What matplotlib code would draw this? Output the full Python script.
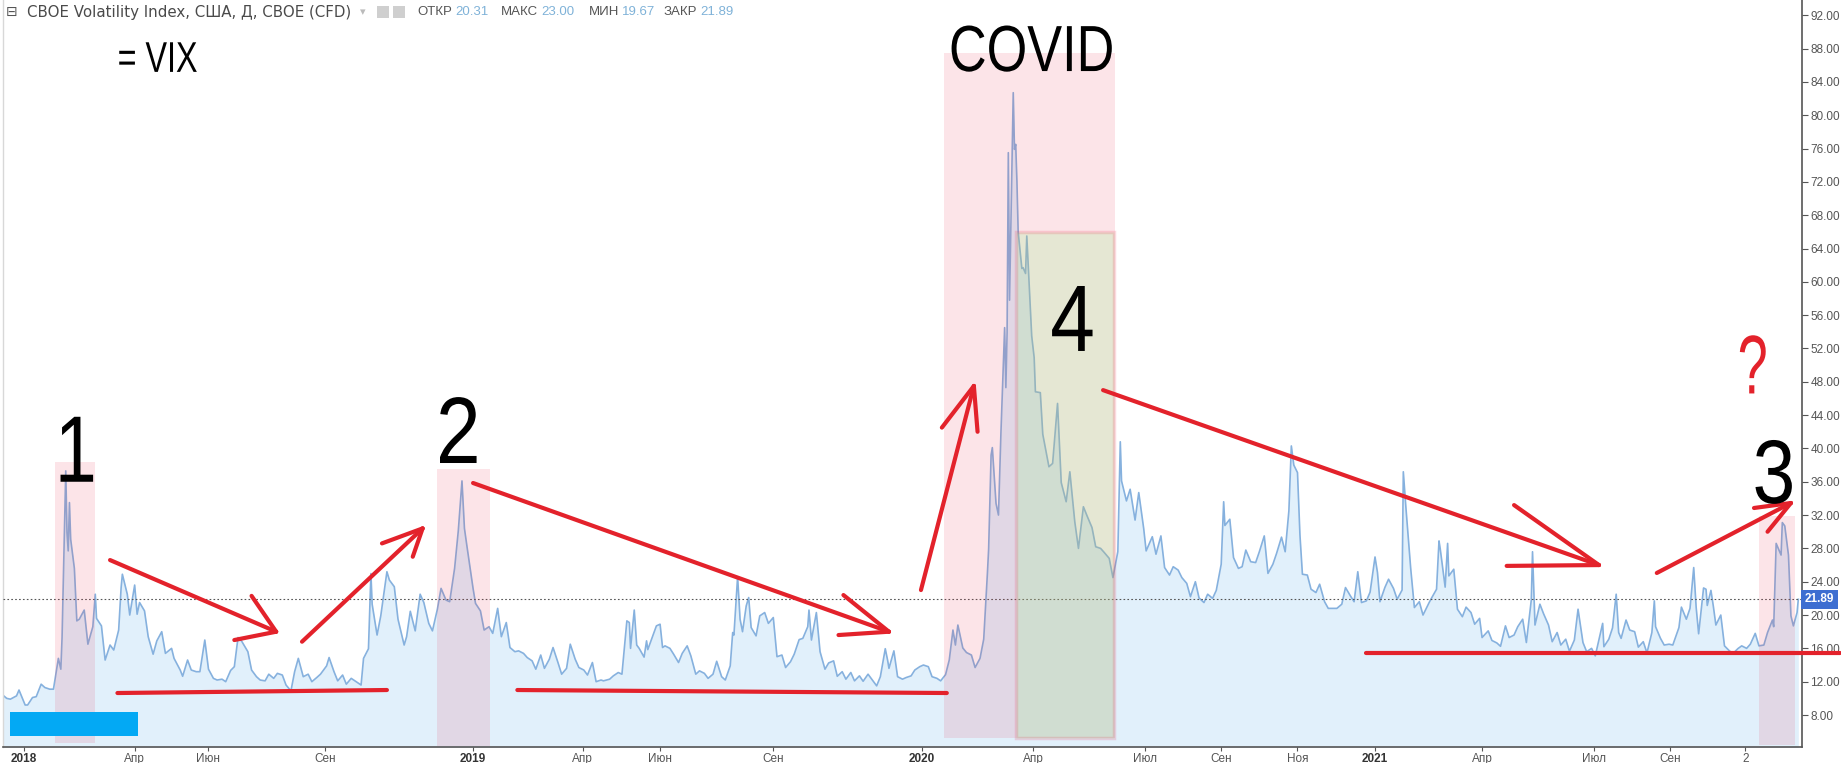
import matplotlib
matplotlib.use('Agg')
import matplotlib.pyplot as plt
import matplotlib.dates as mdates
from matplotlib.patches import Rectangle, PathPatch
from matplotlib.textpath import TextPath
from matplotlib.font_manager import FontProperties
from matplotlib.transforms import Affine2D
import pandas as pd

vix_2017 = [('2017-12-15', 10.5), ('2017-12-19', 10.0), ('2017-12-22', 9.9), ('2017-12-27', 10.3),
            ('2017-12-29', 11.0)]
vix_2018 = [('2018-01-03', 9.2), ('2018-01-05', 9.2), ('2018-01-09', 10.1), ('2018-01-12', 10.2),
            ('2018-01-16', 11.7), ('2018-01-19', 11.3), ('2018-01-23', 11.1), ('2018-01-26', 11.1),
            ('2018-01-30', 14.8), ('2018-02-01', 13.5), ('2018-02-02', 17.3), ('2018-02-05', 37.3),
            ('2018-02-06', 29.9), ('2018-02-07', 27.7), ('2018-02-08', 33.5), ('2018-02-09', 29.1),
            ('2018-02-12', 25.6), ('2018-02-14', 19.3), ('2018-02-16', 19.5), ('2018-02-20', 20.6),
            ('2018-02-23', 16.5), ('2018-02-27', 18.6), ('2018-03-01', 22.5), ('2018-03-02', 19.6),
            ('2018-03-06', 18.7), ('2018-03-09', 14.6), ('2018-03-13', 16.4), ('2018-03-16', 15.8),
            ('2018-03-20', 18.2), ('2018-03-22', 23.3), ('2018-03-23', 24.9), ('2018-03-27', 22.5),
            ('2018-03-29', 20.0), ('2018-04-02', 23.6), ('2018-04-04', 20.1), ('2018-04-06', 21.5),
            ('2018-04-10', 20.5), ('2018-04-13', 17.4), ('2018-04-17', 15.3), ('2018-04-20', 16.9),
            ('2018-04-24', 18.0), ('2018-04-27', 15.4), ('2018-05-02', 16.0), ('2018-05-04', 14.8),
            ('2018-05-09', 13.4), ('2018-05-11', 12.65), ('2018-05-15', 14.6), ('2018-05-18', 13.4),
            ('2018-05-22', 13.2), ('2018-05-25', 13.2), ('2018-05-29', 17.0), ('2018-06-01', 13.5),
            ('2018-06-05', 12.4), ('2018-06-08', 12.2), ('2018-06-12', 12.3), ('2018-06-15', 12.0),
            ('2018-06-19', 13.35), ('2018-06-22', 13.8), ('2018-06-25', 17.3), ('2018-06-28', 16.85),
            ('2018-07-03', 15.6), ('2018-07-06', 13.4), ('2018-07-10', 12.6), ('2018-07-13', 12.2),
            ('2018-07-17', 12.1), ('2018-07-20', 12.9), ('2018-07-24', 12.4), ('2018-07-27', 13.0),
            ('2018-07-31', 12.8), ('2018-08-03', 11.6), ('2018-08-07', 10.9), ('2018-08-10', 13.2),
            ('2018-08-13', 14.8), ('2018-08-17', 12.6), ('2018-08-21', 12.9), ('2018-08-24', 12.0),
            ('2018-08-28', 12.5), ('2018-08-31', 12.9), ('2018-09-05', 13.9), ('2018-09-07', 14.9),
            ('2018-09-11', 13.2), ('2018-09-14', 12.1), ('2018-09-18', 12.8), ('2018-09-21', 11.7),
            ('2018-09-25', 12.4), ('2018-09-28', 12.1), ('2018-10-03', 11.6), ('2018-10-05', 14.8),
            ('2018-10-09', 15.95), ('2018-10-11', 24.98), ('2018-10-12', 21.3), ('2018-10-16', 17.6),
            ('2018-10-19', 19.9), ('2018-10-24', 25.2), ('2018-10-26', 24.2), ('2018-10-30', 23.4),
            ('2018-11-02', 19.5), ('2018-11-07', 16.4), ('2018-11-09', 17.4), ('2018-11-12', 20.45),
            ('2018-11-16', 18.1), ('2018-11-20', 22.5), ('2018-11-23', 21.5), ('2018-11-27', 19.0),
            ('2018-11-30', 18.1), ('2018-12-04', 20.7), ('2018-12-07', 23.2), ('2018-12-11', 21.8),
            ('2018-12-14', 21.6), ('2018-12-18', 25.6), ('2018-12-21', 30.1), ('2018-12-24', 36.1),
            ('2018-12-26', 30.4), ('2018-12-28', 28.3)]
vix_2019 = [('2019-01-02', 23.2), ('2019-01-04', 21.4), ('2019-01-08', 20.5), ('2019-01-11', 18.2),
            ('2019-01-15', 18.6), ('2019-01-18', 17.8), ('2019-01-22', 20.8), ('2019-01-25', 17.4),
            ('2019-01-29', 19.1), ('2019-02-01', 16.1), ('2019-02-05', 15.6), ('2019-02-08', 15.7),
            ('2019-02-12', 15.4), ('2019-02-15', 14.9), ('2019-02-19', 14.5), ('2019-02-22', 13.5),
            ('2019-02-26', 15.2), ('2019-03-01', 13.6), ('2019-03-05', 14.7), ('2019-03-08', 16.1),
            ('2019-03-12', 14.3), ('2019-03-15', 12.9), ('2019-03-19', 13.6), ('2019-03-22', 16.5),
            ('2019-03-26', 14.7), ('2019-03-29', 13.7), ('2019-04-02', 13.4), ('2019-04-05', 12.8),
            ('2019-04-09', 14.3), ('2019-04-12', 12.0), ('2019-04-16', 12.2), ('2019-04-18', 12.1),
            ('2019-04-23', 12.3), ('2019-04-26', 12.7), ('2019-04-30', 13.1), ('2019-05-03', 12.9),
            ('2019-05-07', 19.3), ('2019-05-09', 19.1), ('2019-05-10', 16.0), ('2019-05-13', 20.6),
            ('2019-05-15', 16.4), ('2019-05-17', 16.0), ('2019-05-21', 14.95), ('2019-05-23', 16.9),
            ('2019-05-24', 15.85), ('2019-05-29', 17.9), ('2019-05-31', 18.7), ('2019-06-03', 18.9),
            ('2019-06-05', 16.1), ('2019-06-07', 16.3), ('2019-06-11', 16.0), ('2019-06-14', 15.3),
            ('2019-06-18', 14.3), ('2019-06-21', 15.4), ('2019-06-25', 16.3), ('2019-06-28', 15.1),
            ('2019-07-02', 12.9), ('2019-07-05', 13.3), ('2019-07-09', 13.0), ('2019-07-12', 12.4),
            ('2019-07-16', 12.9), ('2019-07-19', 14.45), ('2019-07-23', 12.6), ('2019-07-26', 12.2),
            ('2019-07-30', 13.9), ('2019-08-01', 17.9), ('2019-08-02', 17.6), ('2019-08-05', 24.6),
            ('2019-08-07', 19.5), ('2019-08-09', 18.0), ('2019-08-12', 21.1), ('2019-08-14', 22.1),
            ('2019-08-16', 18.5), ('2019-08-20', 17.5), ('2019-08-23', 19.9), ('2019-08-27', 20.3),
            ('2019-08-30', 19.0), ('2019-09-03', 19.7), ('2019-09-06', 15.0), ('2019-09-10', 15.2),
            ('2019-09-13', 13.7), ('2019-09-17', 14.4), ('2019-09-20', 15.3), ('2019-09-24', 17.05),
            ('2019-09-27', 17.2), ('2019-10-01', 18.6), ('2019-10-02', 20.6), ('2019-10-04', 17.0),
            ('2019-10-08', 20.3), ('2019-10-11', 15.6), ('2019-10-15', 13.5), ('2019-10-18', 14.25),
            ('2019-10-22', 14.5), ('2019-10-25', 12.65), ('2019-10-29', 13.2), ('2019-11-01', 12.3),
            ('2019-11-05', 13.1), ('2019-11-08', 12.1), ('2019-11-12', 12.7), ('2019-11-15', 12.05),
            ('2019-11-19', 12.9), ('2019-11-22', 12.3), ('2019-11-26', 11.5), ('2019-11-29', 12.6),
            ('2019-12-03', 15.96), ('2019-12-05', 14.5), ('2019-12-06', 13.6), ('2019-12-10', 15.7),
            ('2019-12-13', 12.6), ('2019-12-17', 12.3), ('2019-12-20', 12.5), ('2019-12-24', 12.7),
            ('2019-12-27', 13.4), ('2019-12-31', 13.8)]
vix_2020 = [('2020-01-03', 14.0), ('2020-01-07', 13.8), ('2020-01-10', 12.6), ('2020-01-14', 12.4),
            ('2020-01-17', 12.1), ('2020-01-21', 12.85), ('2020-01-24', 14.6), ('2020-01-27', 18.2),
            ('2020-01-29', 16.4), ('2020-01-31', 18.8), ('2020-02-04', 16.05), ('2020-02-07', 15.5),
            ('2020-02-11', 15.2), ('2020-02-14', 13.7), ('2020-02-18', 14.8), ('2020-02-21', 17.1),
            ('2020-02-24', 25.0), ('2020-02-25', 27.9), ('2020-02-27', 39.2), ('2020-02-28', 40.1),
            ('2020-03-02', 33.4), ('2020-03-04', 32.0), ('2020-03-06', 41.9), ('2020-03-09', 54.5),
            ('2020-03-10', 47.3), ('2020-03-11', 53.9), ('2020-03-12', 75.5), ('2020-03-13', 57.8),
            ('2020-03-16', 82.7), ('2020-03-17', 75.9), ('2020-03-18', 76.5), ('2020-03-19', 72.0),
            ('2020-03-20', 66.0), ('2020-03-23', 61.6), ('2020-03-24', 61.7), ('2020-03-26', 61.0),
            ('2020-03-27', 65.5), ('2020-03-31', 53.5), ('2020-04-02', 50.9), ('2020-04-03', 46.8),
            ('2020-04-07', 46.7), ('2020-04-09', 41.7), ('2020-04-14', 37.8), ('2020-04-17', 38.2),
            ('2020-04-21', 45.4), ('2020-04-24', 35.9), ('2020-04-28', 33.6), ('2020-05-01', 37.2),
            ('2020-05-05', 31.2), ('2020-05-08', 28.0), ('2020-05-12', 33.0), ('2020-05-15', 31.9),
            ('2020-05-19', 30.5), ('2020-05-22', 28.2), ('2020-05-26', 28.0), ('2020-05-29', 27.5),
            ('2020-06-02', 26.8), ('2020-06-05', 24.5), ('2020-06-09', 27.6), ('2020-06-11', 40.8),
            ('2020-06-12', 36.1), ('2020-06-16', 33.7), ('2020-06-19', 35.1), ('2020-06-23', 31.4),
            ('2020-06-26', 34.7), ('2020-06-30', 30.4), ('2020-07-02', 27.7), ('2020-07-07', 29.4),
            ('2020-07-10', 27.3), ('2020-07-14', 29.5), ('2020-07-17', 25.7), ('2020-07-21', 24.8),
            ('2020-07-24', 25.8), ('2020-07-28', 25.4), ('2020-07-31', 24.5), ('2020-08-04', 23.8),
            ('2020-08-07', 22.2), ('2020-08-11', 24.0), ('2020-08-14', 22.05), ('2020-08-18', 21.5),
            ('2020-08-21', 22.5), ('2020-08-25', 22.0), ('2020-08-28', 22.96), ('2020-09-01', 26.1),
            ('2020-09-03', 33.6), ('2020-09-04', 30.75), ('2020-09-08', 31.5), ('2020-09-11', 26.9),
            ('2020-09-15', 25.6), ('2020-09-18', 25.8), ('2020-09-21', 27.8), ('2020-09-25', 26.4),
            ('2020-09-29', 26.3), ('2020-10-02', 27.6), ('2020-10-06', 29.5), ('2020-10-09', 25.0),
            ('2020-10-13', 26.1), ('2020-10-16', 27.4), ('2020-10-20', 29.35), ('2020-10-23', 27.6),
            ('2020-10-26', 32.5), ('2020-10-28', 40.3), ('2020-10-30', 38.0), ('2020-11-02', 37.1),
            ('2020-11-04', 29.6), ('2020-11-06', 24.9), ('2020-11-10', 24.8), ('2020-11-13', 23.1),
            ('2020-11-17', 22.7), ('2020-11-20', 23.7), ('2020-11-24', 21.6), ('2020-11-27', 20.8),
            ('2020-12-01', 20.8), ('2020-12-04', 20.8), ('2020-12-08', 21.3), ('2020-12-11', 23.3),
            ('2020-12-15', 22.3), ('2020-12-18', 21.6), ('2020-12-21', 25.2), ('2020-12-24', 21.5),
            ('2020-12-28', 21.7), ('2020-12-31', 22.75)]
vix_2021 = [('2021-01-04', 26.97), ('2021-01-06', 25.1), ('2021-01-08', 21.6), ('2021-01-12', 23.3),
            ('2021-01-15', 24.3), ('2021-01-19', 23.2), ('2021-01-22', 21.9), ('2021-01-26', 23.0),
            ('2021-01-27', 37.2), ('2021-01-29', 33.1), ('2021-02-02', 25.6), ('2021-02-05', 20.9),
            ('2021-02-09', 21.6), ('2021-02-12', 20.0), ('2021-02-17', 21.5), ('2021-02-19', 22.05),
            ('2021-02-23', 23.1), ('2021-02-25', 28.9), ('2021-02-26', 27.95), ('2021-03-02', 23.35),
            ('2021-03-04', 28.6), ('2021-03-05', 24.7), ('2021-03-09', 25.5), ('2021-03-12', 20.7),
            ('2021-03-16', 19.8), ('2021-03-19', 20.95), ('2021-03-23', 20.3), ('2021-03-26', 18.9),
            ('2021-03-30', 19.6), ('2021-04-01', 17.3), ('2021-04-06', 18.1), ('2021-04-09', 16.95),
            ('2021-04-13', 16.65), ('2021-04-16', 16.25), ('2021-04-20', 18.7), ('2021-04-23', 17.3),
            ('2021-04-27', 17.6), ('2021-04-30', 18.6), ('2021-05-04', 19.5), ('2021-05-07', 16.7),
            ('2021-05-11', 21.8), ('2021-05-12', 27.6), ('2021-05-14', 18.8), ('2021-05-18', 21.3),
            ('2021-05-21', 20.15), ('2021-05-25', 18.8), ('2021-05-28', 16.8), ('2021-06-01', 17.9),
            ('2021-06-04', 16.4), ('2021-06-08', 17.1), ('2021-06-11', 15.65), ('2021-06-15', 17.0),
            ('2021-06-18', 20.7), ('2021-06-22', 16.7), ('2021-06-25', 15.6), ('2021-06-29', 16.0),
            ('2021-07-02', 15.1), ('2021-07-08', 19.0), ('2021-07-09', 16.2), ('2021-07-13', 17.1),
            ('2021-07-16', 18.45), ('2021-07-19', 22.5), ('2021-07-21', 17.9), ('2021-07-23', 17.2),
            ('2021-07-27', 19.4), ('2021-07-30', 18.2), ('2021-08-03', 18.0), ('2021-08-06', 16.15),
            ('2021-08-10', 16.8), ('2021-08-13', 15.45), ('2021-08-17', 17.9), ('2021-08-19', 21.7),
            ('2021-08-20', 18.6), ('2021-08-24', 17.2), ('2021-08-27', 16.4), ('2021-08-31', 16.5),
            ('2021-09-03', 16.4), ('2021-09-08', 18.5), ('2021-09-10', 20.95), ('2021-09-14', 19.5),
            ('2021-09-17', 20.8), ('2021-09-20', 25.7), ('2021-09-22', 20.9), ('2021-09-24', 17.75),
            ('2021-09-28', 23.25), ('2021-09-30', 23.1), ('2021-10-01', 21.15), ('2021-10-04', 22.96),
            ('2021-10-06', 21.0), ('2021-10-08', 18.8), ('2021-10-12', 20.0), ('2021-10-15', 16.3),
            ('2021-10-19', 15.7), ('2021-10-22', 15.4), ('2021-10-26', 15.98), ('2021-10-29', 16.3),
            ('2021-11-02', 16.0), ('2021-11-05', 16.5), ('2021-11-09', 17.8), ('2021-11-12', 16.3),
            ('2021-11-16', 16.4), ('2021-11-19', 17.9), ('2021-11-23', 19.4), ('2021-11-24', 18.6),
            ('2021-11-26', 28.6), ('2021-11-30', 27.2), ('2021-12-01', 31.1), ('2021-12-03', 30.7),
            ('2021-12-06', 27.2), ('2021-12-08', 19.9), ('2021-12-10', 18.7), ('2021-12-13', 20.3),
            ('2021-12-14', 21.89)]

last_close = 21.89
header_values = [('ОТКР', '20.31'), ('МАКС', '23.00'), ('МИН', '19.67'), ('ЗАКР', '21.89')]

tick_dates = ['2018-01-02', '2018-04-02', '2018-06-01', '2018-09-04', '2019-01-02', '2019-04-01',
              '2019-06-03', '2019-09-03', '2020-01-02', '2020-04-01', '2020-07-01', '2020-09-01',
              '2020-11-02', '2021-01-04', '2021-04-01', '2021-07-01', '2021-09-01', '2021-11-01']
tick_labels = ['2018', 'Апр', 'Июн', 'Сен', '2019', 'Апр', 'Июн', 'Сен', '2020', 'Апр', 'Июл', 'Сен',
               'Ноя', '2021', 'Апр', 'Июл', 'Сен', '2']
y_ticks = list(range(8, 93, 4))

# annotations drawn on the screenshot
zones = [('2018-01-27', '2018-03-01', 4.7, 38.4), ('2018-12-04', '2019-01-16', 4.3, 37.5),
         ('2020-01-20', '2020-06-07', 5.3, 87.5), ('2021-11-12', '2021-12-11', 4.4, 31.9)]
zone_green = ('2020-03-18', '2020-06-06', 5.3, 66.0)
arrows = [
    (('2018-03-13', 26.6), ('2018-07-26', 18.0), ('2018-06-22', 17.0), ('2018-07-06', 22.3)),
    (('2018-08-16', 16.8), ('2018-11-22', 30.4), ('2018-10-20', 28.6), ('2018-11-14', 27.0)),
    (('2019-01-02', 35.85), ('2019-12-06', 18.0), ('2019-10-30', 22.4), ('2019-10-26', 17.6)),
    (('2020-01-01', 23.0), ('2020-02-13', 47.5), ('2020-01-18', 42.5), ('2020-02-16', 42.0)),
    (('2020-05-28', 47.0), ('2021-07-05', 26.0), ('2021-04-27', 33.2), ('2021-04-21', 25.9)),
    (('2021-08-21', 25.05), ('2021-12-08', 33.45), ('2021-11-08', 32.85), ('2021-11-19', 30.0)),
]
supports = [(('2018-03-19', 10.64), ('2018-10-24', 11.0)),
            (('2019-02-07', 11.0), ('2020-01-22', 10.64)),
            (('2020-12-28', 15.4), ('2022-01-17', 15.4))]
# text, date, baseline value, font size, horizontal squeeze, colour
labels = [('1', '2018-02-14', 36.0, 68, 0.8, 'black'), ('2', '2018-12-21', 38.25, 68, 0.85, 'black'),
          ('3', '2021-11-24', 33.45, 65, 0.85, 'black'), ('4', '2020-05-03', 51.7, 68, 0.85, 'black'),
          ('COVID', '2020-03-31', 85.3, 47, 0.8, 'black'), ('= VIX', '2018-04-21', 85.2, 31, 0.75, 'black'),
          ('?', '2021-11-07', 46.6, 60, 0.65, '#e3222b')]

series = vix_2017 + vix_2018 + vix_2019 + vix_2020 + vix_2021
df = pd.DataFrame(series, columns=['date', 'close'])
df['date'] = pd.to_datetime(df['date'])

W, H = 1841, 763
fig = plt.figure(figsize=(W / 100, H / 100), dpi=100)
ax = fig.add_axes([3 / W, 16 / H, 1799 / W, 747 / H])

sans = ['Liberation Sans', 'DejaVu Sans']
red = '#e3222b'

ax.fill_between(df['date'], df['close'], 0, color='#e1f0fb', lw=0, zorder=1)
ax.plot(df['date'], df['close'], color='#86b1de', lw=1.2, zorder=2)
ax.axhline(last_close, color='#555555', lw=0.8, ls=(0, (1.5, 2.0)), zorder=3)

for start, end, lo, hi in zones:
    s, e = pd.Timestamp(start), pd.Timestamp(end)
    ax.add_patch(Rectangle((s, lo), e - s, hi - lo, facecolor=(0.91, 0.2, 0.32, 0.13),
                           edgecolor='none', zorder=4))
s, e = pd.Timestamp(zone_green[0]), pd.Timestamp(zone_green[1])
ax.add_patch(Rectangle((s, zone_green[2]), e - s, zone_green[3] - zone_green[2],
                       facecolor=(0.63, 0.94, 0.59, 0.25), edgecolor=(0.91, 0.2, 0.32, 0.18),
                       lw=2.5, zorder=5))

for tail, tip, b1, b2 in arrows:
    for a, b in [(tail, tip), (b1, tip), (b2, tip)]:
        ax.plot([pd.Timestamp(a[0]), pd.Timestamp(b[0])], [a[1], b[1]], color=red, lw=3.0,
                solid_capstyle='round', zorder=6)
for a, b in supports:
    ax.plot([pd.Timestamp(a[0]), pd.Timestamp(b[0])], [a[1], b[1]], color=red, lw=3.0,
            solid_capstyle='round', zorder=6, clip_on=False)

# small blue marker at bottom-left
s, e = pd.Timestamp('2017-12-22'), pd.Timestamp('2018-04-05')
ax.add_patch(Rectangle((s, 5.5), e - s, 2.86, facecolor='#03a9f4', edgecolor='none', zorder=7))

ax.set_xlim(pd.Timestamp('2017-12-16'), pd.Timestamp('2021-12-17'))
ax.set_ylim(4.16, 93.83)

# big hand-written labels: condensed glyphs via a squeezed text path
fp = FontProperties(family='Liberation Sans')
k = fig.dpi / 72
for txt, d, v, size, sx, col in labels:
    tp = TextPath((0, 0), txt, size=size, prop=fp)
    bb = tp.get_extents()
    px, py = ax.transData.transform((mdates.date2num(pd.Timestamp(d)), v))
    tr = Affine2D().translate(-(bb.x0 + bb.x1) / 2, 0).scale(k * sx, k).translate(px, py)
    ax.add_artist(PathPatch(tp, transform=tr, facecolor=col, edgecolor='none', zorder=7,
                            clip_on=False))

ax.yaxis.tick_right()
ax.set_yticks(y_ticks)
ax.set_yticklabels(['%.2f' % t for t in y_ticks], family=sans, fontsize=8.5, color='#555555')
ax.set_xticks(pd.to_datetime(tick_dates))
ax.set_xticklabels(tick_labels, family=sans, fontsize=8.5, color='#555555')
for lab in ax.get_xticklabels():
    if lab.get_text().isdigit() and len(lab.get_text()) == 4:
        lab.set_fontweight('bold')
        lab.set_color('#333333')
ax.tick_params(axis='y', direction='out', length=4, width=0.8, color='#555555', pad=2)
ax.tick_params(axis='x', direction='out', length=3, width=0.8, color='#555555', pad=1)

ax.spines['top'].set_visible(False)
ax.spines['left'].set_color('#d8d8d8')
ax.spines['left'].set_linewidth(1.0)
ax.spines['right'].set_color('#555555')
ax.spines['right'].set_linewidth(1.2)
ax.spines['bottom'].set_color('#555555')
ax.spines['bottom'].set_linewidth(1.2)

# price label on the scale
ax.text(1.0015, last_close, '%.2f' % last_close, transform=ax.get_yaxis_transform(), ha='left',
        va='center', fontsize=8.5, fontweight='bold', color='white', family=sans,
        bbox=dict(boxstyle='square,pad=0.3', facecolor='#3d6ed1', edgecolor='none'), zorder=8,
        clip_on=False)

# header line
hy = 1 - 12 / H
fig.text(6 / W, hy, '⊟', fontsize=10, color='#555555', va='center', family='DejaVu Sans')
fig.text(27 / W, hy, 'CBOE Volatility Index, США, Д, CBOE (CFD)', fontsize=10.8, color='#4a4a4a',
         va='center', family='DejaVu Sans')
fig.text(360 / W, hy, '▾', fontsize=8, color='#bbbbbb', va='center', family='DejaVu Sans')
for x0 in (377, 393):
    fig.patches.append(Rectangle((x0 / W, 1 - 18 / H), 12 / W, 12 / H, transform=fig.transFigure,
                                 facecolor='#cfcfcf', edgecolor='none'))
renderer = fig.canvas.get_renderer()
for (name, val), x0 in zip(header_values, (417, 501, 589, 664)):
    t = fig.text(x0 / W, hy, name, fontsize=9.5, color='#555555', va='center', family=sans)
    bb = t.get_window_extent(renderer)
    fig.text((bb.x1 + 3) / W, hy, val, fontsize=9.5, color='#7fb2d8', va='center', family=sans)

fig.savefig('out.png', dpi=100)
